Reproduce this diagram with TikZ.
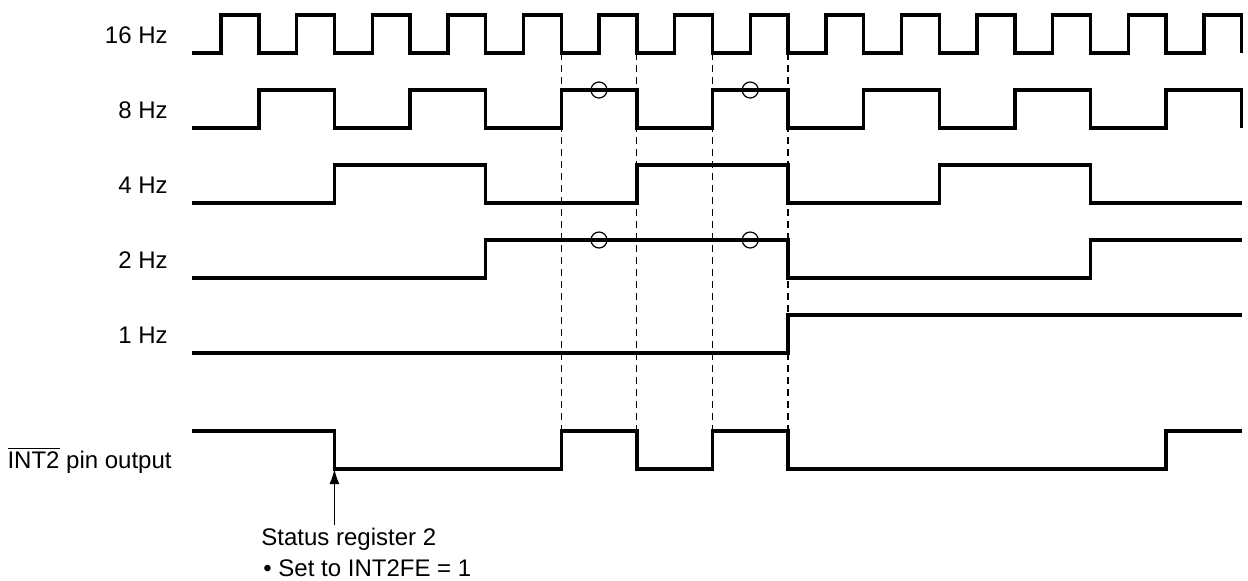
\documentclass[tikz,border=0pt]{standalone}
\usepackage{fontspec}
\setmainfont{Liberation Sans}
\usetikzlibrary{arrows.meta}

\tikzset{
  wave/.style={line width=1.7pt, line join=miter},
  guide/.style={line width=0.6pt, dash pattern=on 3.5pt off 2.5pt},
  sample/.style={line width=0.6pt},
  lbl/.style={inner sep=0pt, font=\fontsize{12}{14}\selectfont},
}

\begin{document}
\begin{tikzpicture}[x=18.9pt,y=-0.5pt]
\useasboundingbox (-5.847,0) rectangle (27.169,580);

% guide lines
\foreach \k in {9,11,13,15}
  \draw[guide] (\k,53) -- (\k,431);

% channel labels
\node[lbl, anchor=base east] (f16) at (-1.40,43) {16 Hz};
\node[lbl, anchor=base east] (f8) at (-1.40,118) {8 Hz};
\node[lbl, anchor=base east] (f4) at (-1.40,193) {4 Hz};
\node[lbl, anchor=base east] (f2) at (-1.40,268) {2 Hz};
\node[lbl, anchor=base east] (f1) at (-1.40,343) {1 Hz};
\node[lbl, anchor=base east] (int) at (-1.296,468) {$\overline{\mbox{INT2}}$ pin output};

% 16 Hz
\draw[wave] (-0.767,53) \foreach \k in {0,2,...,26} { -- (\k,53) -- (\k,15) -- (\k+1,15) -- (\k+1,53) };
% 8 Hz
\draw[wave] (-0.767,128) \foreach \k in {1,5,...,25} { -- (\k,128) -- (\k,90) -- (\k+2,90) -- (\k+2,128) };
% 4 Hz
\draw[wave] (-0.767,203) -- (3,203) -- (3,165) -- (7,165) -- (7,203) -- (11,203) -- (11,165) -- (15,165)
  -- (15,203) -- (19,203) -- (19,165) -- (23,165) -- (23,203) -- (27,203);
% 2 Hz
\draw[wave] (-0.767,278) -- (7,278) -- (7,240) -- (15,240) -- (15,278) -- (23,278) -- (23,240) -- (27,240);
% 1 Hz
\draw[wave] (-0.767,353) -- (15,353) -- (15,315) -- (27,315);
% INT2 pin
\draw[wave] (-0.767,431) -- (3,431) -- (3,469) -- (9,469) -- (9,431) -- (11,431) -- (11,469) -- (13,469)
  -- (13,431) -- (15,431) -- (15,469) -- (25,469) -- (25,431) -- (27,431);

% sampling points
\foreach \k in {10,14} {
  \draw[sample] (\k,90) circle (4pt);
  \draw[sample] (\k,240) circle (4pt);
}

% status register note
\coordinate (set) at (3,469);
\node[lbl, anchor=base west] (status) at (1.058,545) {Status register 2};
\node[lbl, anchor=base west] (bullet) at (1.111,576) {\textbullet\ Set to INT2FE = 1};
\draw[line width=0.8pt, -{Latex[length=7.5pt,width=5pt]}] (set |- 0,525) -- (set);

\end{tikzpicture}
\end{document}
